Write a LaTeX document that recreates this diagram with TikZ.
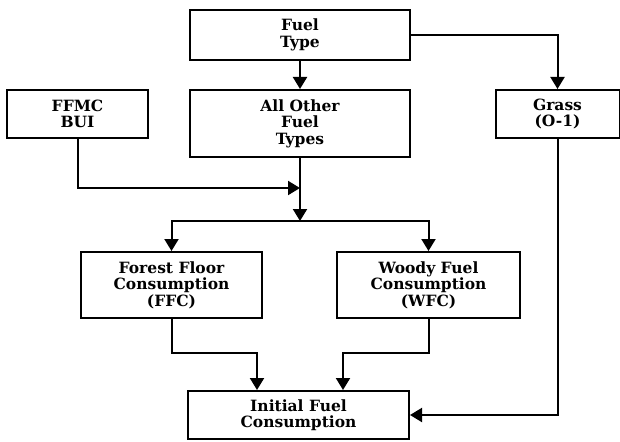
\documentclass[tikz,border=0pt]{standalone}
\usepackage{fontspec}
\setmainfont{DejaVu Serif}
\usetikzlibrary{arrows.meta}
\begin{document}
\begin{tikzpicture}[x=1pt,y=-1pt,
  box/.style={draw,line width=2pt,align=center,inner sep=0pt,
    font=\fontsize{15.5}{16.5}\selectfont\bfseries},
  conn/.style={line width=2pt,-{Triangle[width=14pt,length=12pt]}}]
\useasboundingbox (0,0) rectangle (620,441);
\node[box,minimum width=220pt,minimum height=50pt] (ft) at (300,35) {Fuel\\Type};
\node[box,minimum width=220pt,minimum height=67pt] (ao) at (300,123.5) {All Other\\Fuel\\Types};
\node[box,minimum width=141pt,minimum height=48pt] (ffmc) at (77.5,114) {FFMC\\BUI};
\node[box,minimum width=124pt,minimum height=48pt] (grass) at (557.5,114) {Grass\\(O-1)};
\node[box,minimum width=181pt,minimum height=66pt] (ffc) at (171.5,285) {Forest Floor\\Consumption\\(FFC)};
\node[box,minimum width=183pt,minimum height=66pt] (wfc) at (428.5,285) {Woody Fuel\\Consumption\\(WFC)};
\node[box,minimum width=221pt,minimum height=48pt] (ifc) at (298.5,415) {Initial Fuel\\Consumption};
\coordinate (j1) at (300,188);
\coordinate (j2) at (300,221);
\draw[conn] (ft.east) -| (grass.north);
\draw[conn] (ft.south) -- (ao.north);
\draw[conn] (ffmc.south) |- (j1);
\draw[conn] (ao.south) -- (j2);
\draw[conn] (j2) -| (ffc.north);
\draw[conn] (j2) -| (wfc.north);
\draw[conn] (ffc.south) -- ++(0,34) -| ([xshift=-41.5pt]ifc.north);
\draw[conn] (wfc.south) -- ++(0,34) -| ([xshift=44.5pt]ifc.north);
\draw[conn] (grass.south) |- (ifc.east);
\end{tikzpicture}
\end{document}
